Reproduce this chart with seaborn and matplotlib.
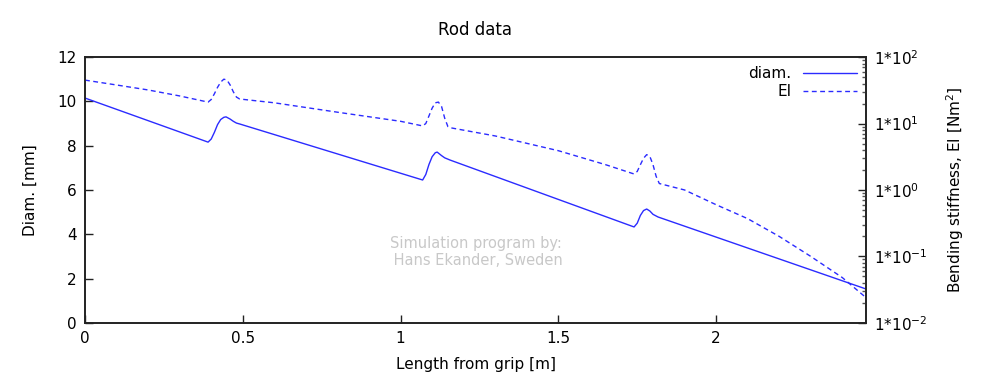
"""Rod data chart: diameter and bending stiffness along the rod."""
import numpy as np
import pandas as pd
import matplotlib
matplotlib.use("Agg")
import matplotlib.pyplot as plt
from matplotlib.lines import Line2D
import seaborn as sns

# Diameter along the rod [mm]
diam_x = [0.0, 0.39, 0.40, 0.41, 0.42, 0.43, 0.44, 0.447, 0.46, 0.47, 0.48, 0.49,
          1.07, 1.08, 1.09, 1.10, 1.11, 1.116, 1.13, 1.14, 1.157,
          1.74, 1.75, 1.76, 1.77, 1.78, 1.79, 1.80, 1.816, 2.475]
diam_y = [10.15, 8.16, 8.30, 8.60, 8.95, 9.18, 9.28, 9.30, 9.20, 9.10, 9.02, 8.98,
          6.45, 6.70, 7.15, 7.50, 7.68, 7.71, 7.55, 7.45, 7.35,
          4.33, 4.50, 4.85, 5.07, 5.14, 5.05, 4.90, 4.78, 1.53]

# Bending stiffness EI [Nm^2]
ei_x = [0.0, 0.1, 0.2, 0.3, 0.39, 0.40, 0.41, 0.42, 0.43, 0.44, 0.45, 0.46, 0.47, 0.48, 0.49,
        0.6, 0.8, 1.0, 1.07, 1.08, 1.09, 1.10, 1.11, 1.12, 1.13, 1.14, 1.15, 1.16,
        1.3, 1.5, 1.65, 1.74, 1.75, 1.76, 1.77, 1.78, 1.79, 1.80, 1.81, 1.82,
        1.9, 2.0, 2.1, 2.2, 2.3, 2.4, 2.475]
ei_y = [45, 38, 32, 26, 21, 23, 28, 35, 42, 46.5, 45, 38, 30, 25, 23.4,
        20.5, 14.8, 10.8, 9.2, 10, 13, 17, 20.5, 21, 18, 12, 9, 8.6,
        6.5, 3.9, 2.4, 1.74, 1.9, 2.4, 3.0, 3.4, 3.2, 2.4, 1.6, 1.25,
        1.0, 0.6, 0.37, 0.2, 0.1, 0.048, 0.024]

x_ticks = [0, 0.5, 1, 1.5, 2]
x_tick_labels = ["0", "0.5", "1", "1.5", "2"]
y_ticks = [0, 2, 4, 6, 8, 10, 12]
y2_ticks = [1e-2, 1e-1, 1e0, 1e1, 1e2]
y2_tick_labels = [r"1*10$^{-2}$", r"1*10$^{-1}$", r"1*10$^{0}$", r"1*10$^{1}$", r"1*10$^{2}$"]

BLUE = "#2b2bff"
DASH = (0, (3.5, 2.5))

sns.set_style("ticks", {"xtick.direction": "in", "ytick.direction": "in",
                        "text.color": "black", "axes.labelcolor": "black",
                        "xtick.color": "#222222", "ytick.color": "#222222"})
plt.rcParams["font.family"] = ["DejaVu Sans"]
plt.rcParams["mathtext.default"] = "regular"

diam_df = pd.DataFrame({"x": diam_x, "y": diam_y})
ei_df = pd.DataFrame({"x": ei_x, "y": ei_y})

fig = plt.figure(figsize=(10, 3.83), dpi=100)
ax = fig.add_axes([0.085, 0.157, 0.781, 0.694])
ax2 = ax.twinx()

sns.lineplot(data=diam_df, x="x", y="y", ax=ax, color=BLUE, lw=1.0, sort=False)
sns.lineplot(data=ei_df, x="x", y="y", ax=ax2, color=BLUE, lw=1.0, sort=False,
             dashes=False, linestyle=DASH)

ax.set_xlim(0, 2.475)
ax.set_ylim(0, 12)
ax2.set_yscale("log")
ax2.set_ylim(1e-2, 1e2)

ax.set_xticks(x_ticks)
ax.set_xticklabels(x_tick_labels, fontsize=11, color="black")
ax.set_yticks(y_ticks)
ax.set_yticklabels([str(v) for v in y_ticks], fontsize=11, color="black")
ax2.set_yticks(y2_ticks)
ax2.set_yticklabels(y2_tick_labels, fontsize=11, color="black")

ax.tick_params(axis="x", direction="in", length=6, width=1, color="#222222",
               bottom=True, top=False, pad=6)
ax.tick_params(axis="y", direction="in", length=6, width=1, color="#222222",
               left=True, right=False, pad=6)
ax2.tick_params(axis="y", which="major", direction="in", length=6, width=1, color="#222222",
                right=True, left=False, pad=6)
ax2.tick_params(axis="y", which="minor", direction="in", length=3, width=1, color="#555555",
                right=True, left=False)

for a in (ax, ax2):
    for s in a.spines.values():
        s.set_visible(True)
        s.set_color("#222222")
        s.set_linewidth(1.2)

ax.set_xlabel("Length from grip [m]", fontsize=11, labelpad=8)
ax.set_ylabel("Diam. [mm]", fontsize=11, labelpad=14)
ax2.set_ylabel(r"Bending stiffness, EI [Nm$^{2}$]", fontsize=11, labelpad=12)
ax.set_title("Rod data", fontsize=12, pad=16)

ax.text(0.50, 0.267, "Simulation program by:\n Hans Ekander, Sweden", transform=ax.transAxes,
        ha="center", va="center", color="#c8c8c8", fontsize=10.5, linespacing=1.15)

handles = [Line2D([], [], color=BLUE, lw=1.0),
           Line2D([], [], color=BLUE, lw=1.0, linestyle=DASH)]
ax2.legend(handles, ["diam.", "EI"], loc="upper right", frameon=False, markerfirst=False,
           fontsize=11, handlelength=3.5, borderaxespad=0.2, labelspacing=0.2)

fig.savefig("out.png", dpi=100)
